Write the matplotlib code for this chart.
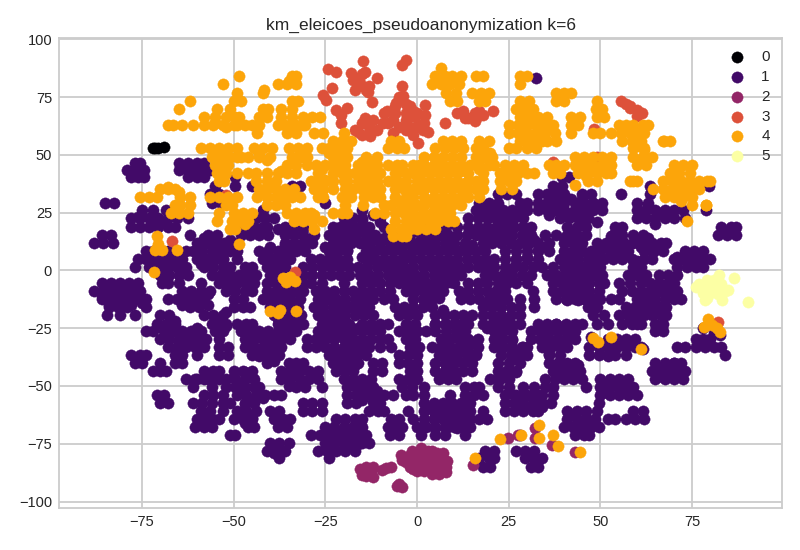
import matplotlib
matplotlib.use('Agg')
import matplotlib.pyplot as plt

plt.rcParams['font.family'] = ['Liberation Sans', 'DejaVu Sans']

# t-SNE coordinates, dense groups kept per row as y: [x, ...]
cluster_0 = [(-72, 52.9), (-71.5, 53.2), (-70.6, 53.2), (-69, 53.3)]

rows_1 = {
    46.5: [-77, -75.5, -65, -62.5, -60, -58],
    43.5: [-79, -76.5, -74.5, -65, -62.5, -60, -58, -56.5],
    40.5: [-78, -76, -74.5, -62.5, -60, -58, -49.5, 39.5, 41.5],
    36.5: [-55, -49.5, -45, -34, -32, 37, 39.5, 63.5, 79.5],
    33: [-56.5, -54, 22, 24.5, 27, 33, 35.5, 38, 40, 45, 47.5, 55.6, 63.5],
    29: [-85, -82.5, -56, -53.5, -25, 17, 19.5, 22, 28, 30, 33, 35.5, 38, 40, 43, 45.5, 48, 50.5, 60, 63],
    26: [-75, -72, -68.5, -42, -15, 16, 18.5, 21, 23.5, 26, 28.5, 30, 33, 35.5, 38, 40, 43, 45.5, 48, 50.5, 60, 62.5,
         65, 67.5, 70, 72.5, 78.8],
    22.5: [-78, -75.5, -73, -70.5, -68, -65.5, -62.5, -44, -41.5, -39, -20, -17.5, -15, -10, 14, 16.5, 19, 21.5, 24,
           26.5, 29, 39, 41.5, 44, 46.5, 60, 62.5, 65, 67.5, 70, 73],
    19: [-78, -75.5, -73, -70.5, -68, -66, -47, -44.5, -42, -36, -33.5, -31, -23, -20.5, -18, -15.5, -13, -9, 1, 8, 11,
         14, 16.5, 19, 21.5, 24, 26.5, 29, 31, 41, 43.5, 46, 54, 56, 83, 85.5, 87],
    15.5: [-86, -83.5, -62, -57, -54.5, -48, -45.5, -43, -40.5, -36, -33.5, -31, -28, -24, -21.5, -19, -16.5, -14, -11.5,
           -7, -4.5, -2, 1, 3.5, 6, 8.5, 11, 13.5, 16, 18.5, 21, 23.5, 26, 28.5, 31, 35, 38, 41, 43.5, 46, 53.5, 56, 59,
           61.5, 82, 84.5, 87],
    12: [-88, -85.5, -83, -60, -57.5, -55, -52.5, -50, -36, -33.5, -31, -28.5, -23, -20.5, -18, -15.5, -13, -10, -7.5,
         -5, -2.5, 0, 2.5, 5, 7.5, 10, 13, 18, 20.5, 23, 25.5, 28, 30.5, 33, 36, 40, 42.5, 45, 49, 51.5, 54, 56.5, 59,
         61.5, 64, 66.5, 68],
    8.5: [-74, -72, -68, -65.5, -63, -61, -58.5, -56, -53.5, -51, -49, -43, -40.5, -38, -35.5, -33, -30.5, -24, -21.5,
          -19, -14, -11.5, -9, -6.5, -4, -1.5, 1, 3.5, 6, 8.5, 11, 13.5, 16, 18.5, 24, 27, 30, 33, 36, 40, 42.5, 45,
          47.5, 50, 52.5, 55, 57.5, 62, 64.5, 67, 73, 75.5, 78],
    5: [-76, -74, -71.5, -69, -66.5, -64, -60, -57.5, -55, -53, -42, -39.5, -37, -34.5, -29, -26.5, -24, -21.5, -19,
        -14, -11.5, -9, -6.5, -4, -1.5, 1, 3.5, 6, 8.5, 11, 13.5, 16, 18.5, 21, 24, 27, 30, 33, 39, 41.5, 44, 46.5, 49,
        51, 53.5, 56, 58.5, 62, 64, 70, 72.5, 75, 77.5, 80],
    1.5: [-77, -73, -70.5, -68, -65.5, -63, -58, -55.5, -53, -51, -47, -45, -41, -38.5, -36, -31, -28.5, -26, -23.5,
          -21, -18.5, -16, -13.5, -11, -8.5, -6, -3.5, -1, 1.5, 4, 6.5, 9, 11.5, 14, 16.5, 19, 21, 24, 26.5, 29, 31.5,
          34, 37, 40, 42.5, 45, 47.5, 50, 59, 61, 71, 73.5, 76, 78],
    -2: [-70, -67.5, -65, -62.5, -56, -53.5, -51, -48.5, -46, -44, -40, -37.5, -31, -28.5, -26, -23.5, -21, -18.5,
         -15.5, -13, -10.5, -8, -5.5, -3, -0.5, 2, 4.5, 7, 9.5, 12, 18.5, 21, 23.5, 26, 28.5, 31, 35.5, 38, 40.5, 43,
         45.5, 48, 50.5, 57.5, 60, 62.5, 66, 68.5, 71],
    -5.5: [-86, -83.5, -81, -78.5, -76, -69.5, -68, -65, -59, -54, -51.5, -49, -46.5, -44.5, -41, -38.5, -36, -33.5,
           -31, -29, -26, -20, -15, -12.5, -10, -7.5, -5, -2.5, 0, 2.5, 5, 7.5, 10, 14, 16.5, 19, 22, 24.5, 27, 30, 37,
           39.5, 42, 44.5, 47, 49.5, 51, 55, 58, 61, 63.5, 66, 68.5, 70],
    -9: [-88, -85.5, -83, -80.5, -78, -75.5, -64, -61.5, -59, -56.5, -52, -49.5, -47, -45, -41, -38.5, -36, -33.5, -31,
         -27.5, -25, -22.5, -20, -17.5, -15, -12.5, -10, -7.5, -3, -0.5, 2, 4.5, 7, 11.5, 14, 16.5, 19, 21.5, 24, 31.5,
         37, 39.5, 42, 44.5, 47, 49.5, 56, 58.5, 61, 63.5, 66, 68.5, 71],
    -12.5: [-86, -83.5, -81, -78.5, -76, -74, -68, -65.5, -63, -60.5, -58, -50, -47.5, -42, -39.5, -37, -34.5, -32, -27,
            -24.5, -22, -19.5, -17, -14.5, -12, -9, -6.5, -1, 1.5, 4, 12, 14.5, 17, 19.5, 22, 24.5, 28, 32, 38, 40.5,
            43, 45.5, 48, 50, 53, 55, 60, 62.5, 65, 67.5, 70, 72],
    -16: [-84, -81.5, -79, -74, -62, -59.5, -50, -47.5, -45.5, -40, -37.5, -35, -32.5, -28, -25.5, -23, -20.5, -18,
          -15.5, -13, -6, -3.5, -1, 1.5, 18, 20.5, 23, 25.5, 28, 32, 46.5, 49, 57, 59.5, 62, 64, 66, 68],
    -19.4: [-84.5, -81, -76.8, -70, -67.5, -58, -55.5, -53, -39, -36.5, -34, -31.5, -27, -24.5, -22, -19.5, -17, -14.5,
            -12, -5, -2.5, 0, 5, 7.5, 10, 12.5, 15, 18, 20.5, 23, 25.5, 28, 48, 51, 55, 57.5, 60, 62, 64, 66.5, 68],
    -23: [-71, -68.5, -66, -56, -53.5, -52, -49, -46.5, -45, -38, -35.5, -33, -31, -26, -23.5, -21, -18.5, -15, -12.5,
          -10, -8, -3, -0.5, 5, 7.5, 10, 12.5, 14, 18, 20.5, 23, 25.5, 28, 33, 35.5, 38, 40.5, 43, 45, 49, 52, 56, 58.5,
          61, 65, 67],
    -26.4: [-74, -72, -69, -66.5, -64, -61.5, -59, -55, -53, -48, -45.5, -43, -40.5, -38, -35.5, -27, -24.5, -22, -19.5,
            -17.5, -15, -12.5, -10, -5, -2.5, 0, 2.5, 5, 8, 10.5, 13, 21, 23.5, 26, 31, 33.5, 36, 38.5, 41, 43, 65, 67],
    -29.8: [-70, -67.5, -65, -62.5, -60, -57.5, -54, -47, -44.5, -42, -39.5, -37, -34.5, -30, -27.5, -25, -22.5, -20,
            -17.5, -15, -12.5, -10, -8, -3, -0.5, 6.5, 9, 11.5, 14, 16.5, 21, 23.5, 26, 31, 33.5, 36, 38.5, 41, 43, 52,
            54.5, 57, 59.5, 76, 78, 80],
    -33.3: [-68, -65.5, -63, -60.5, -58, -54, -51.5, -47, -44.5, -42, -39.5, -37, -30, -27.5, -25, -22.5, -20, -17.5,
            -15, -13, -10, -7, -2, 0.5, 4, 6.5, 9, 11.5, 14, 16.5, 21, 23.5, 26, 28.5, 30, 34, 36.5, 39, 41, 47, 49.5,
            52, 54.5, 57, 59.5, 61, 70.8, 73, 76, 78.5, 81, 83],
    -36.8: [-78, -75.5, -74, -66, -64, -60, -54, -51.5, -45, -42.5, -40, -37.5, -24, -21.5, -19, -16.5, -14, -5, -2.5,
            0, 6, 8.5, 11, 13.5, 16, 23, 25.5, 28, 30, 36, 39, 47, 49.5, 52, 54, 57, 84],
    -40.2: [-77, -75, -70, -66, -64, -41, -35, -33, -31, -23, -20.5, -18, -16, -12, -9.5, -5, -2.5, 0, 5, 7.5, 10, 12.5,
            15, 22, 25, 28, 36, 38.5, 41, 43, 65, 67.5, 70, 72],
    -43.7: [-72, -70, -68.5, -58, -55.5, -54, -50, -47.5, -45, -37, -34.5, -32, -29.5, -27, -22, -19.5, -17.5, -12, -9.5,
            -2, 0, 5, 7.5, 10, 12.5, 15, 22, 24.5, 27, 37, 39.5, 42, 44.5, 64, 66.5, 69, 71.5, 73],
    -47.1: [-63, -60.5, -58, -55.5, -54, -52, -49.5, -47, -44.5, -37, -34.5, -32, -29.5, -27, -20, -17.5, -15, -12.5, -5,
            -2.5, 0, 6, 8.5, 10.5, 20, 22.5, 25, 35, 37.5, 40, 42.5, 45, 50, 52.5, 55, 57.5, 65, 67.5, 70, 72.5],
    -50.6: [-61, -56, -52, -49.5, -47, -44.5, -43, -33, -30.5, -26, -19, -16.5, -14, -12, -4, -1.5, 2, 13, 15.5, 17, 22,
            25, 29, 32, 35, 37, 46, 50, 52.5, 55, 57.5, 59],
    -54: [-71, -69, -58, -55.5, -53, -49, -46.5, -44, -41.5, -39, -37, -19, -16.5, -14, -11.5, -9, -6.5, -3, -1, 2, 9,
          13, 15.5, 18, 24, 26.5, 29, 31.5, 34, 37, 50, 52.5, 55, 57.5, 60],
    -57.5: [-70, -68, -61, -58.5, -56, -53, -51, -47, -44.5, -31, -28.5, -26, -19, -16.5, -10, 2, 4.5, 7, 9.5, 12, 14.5,
            24, 26.5, 29, 31.5, 34, 36.5, 49.7],
    -61: [-59, -56.5, -53, -49, -46.5, -44, -40, -37.5, -31, -28.5, -26, -13, -10.5, -9, -2.5, 2, 4.5, 7, 9.5, 12, 14.5,
          18, 24, 26.5, 29, 31.5, 33, 41, 43.5, 46, 49, 59, 61.5],
    -64.4: [-60, -57.5, -56, -54, -50, -47.5, -45, -39, -36.5, -34.5, -22, -19.5, -17, -15, -7, -5, -1, 2, 4.5, 7, 9.5,
            12, 14.5, 17, 19, 41, 43.5, 46, 48.5, 52, 54, 57, 59.5, 62],
    -67.9: [-60.5, -58, -56, -46, -44.5, -38, -35.5, -25, -22.5, -20, -17.5, -15, -8, -5.5, -4, 0, 2.5, 5, 7.5, 10, 12.5,
            14.5, 40, 42.5, 45, 47.5, 49.5],
    -71.4: [-51, -49.5, -29, -26.5, -24, -21.5, -19, -16.5, -14, -7.5, -5, 1, 5, 7.5, 13, 28, 43, 45.5, 47],
    -74.8: [-40, -37.5, -35, -25, -22.5, -20, -17.5, -15, -13],
    -78.3: [-41, -38.5, -36, -27, -24.5, -22, -19.5, -17, 18.5, 21, 27, 29.5, 32],
    -81.3: [-37.5, -24, 17, 19.5, 21, 29.5, 32, 34],
    -85: [18, 20, 31, 33],
}
# second pass over the purple blobs, offset from the rows so the gaps close up
extra_1 = [
    (32.5, 83.5), (47.5, -29), (78, -25), (81, -27), (82.5, -28), (61.5, -34),
    (-84.7, -8), (-82, -8), (-79, -8), (-86, -11), (-83, -11), (-80, -11), (-77, -11), (-84, -15), (-81, -15), (-78, -15),
    (-75, -14), (-69, -24), (-67, -25), (-64.5, -31), (-62, -27), (-60, -25), (-65, -31), (-68, -28), (-62, -31),
    (-60, -31), (-66, -22), (-63, -12), (-60, -11), (-57, -10), (-64, -15), (-60, -15), (-57, -15),
    (-52, -24), (-55, -21), (-52, -18), (-46, -26), (-42, -28), (-38, -28), (-36, -29), (-45, -32), (-41, -32), (-38, -33),
    (-43, -37), (-39, -39), (-38, -21), (-35, -24), (-33, -26), (-33, -19), (-39, -14), (-36, -14), (-33, -14), (-38, -5),
    (-33, -8), (-40, 10), (-38, 6), (-36, 11), (-31, 18), (-34, 16), (-29, 13), (-25, 10), (-22, 11), (-19, 9), (-26, 2),
    (-23, 5), (-21, 3), (-15, 6), (-12, 5), (-9, 4), (-6, 2), (-3, 6), (-12, 13), (-9, 14), (-17, 17), (-14, 16), (-21, 19),
    (-18, 21), (-15, 22), (-12, 24), (-10, 21), (-72, 21), (-69, 21), (-76, 23), (-72, 3), (-69, 2), (-66, 6), (-59, 3),
    (-56, 4), (-53, 5), (-58, 14), (-55, 11), (-51, 13), (-49, 5), (-44, 16), (-41, 19), (-38, 18), (-33, 11),
    (-25, -25), (-22, -24), (-19, -24), (-16, -25), (-13, -24), (-25, -28), (-22, -28), (-18, -30), (-15, -32), (-27, -31),
    (-23, -34), (-20, -35), (-16, -36), (-22, -38), (-19, -39), (-17, -41), (-29, -45), (-33, -44), (-36, -45), (-35, -50),
    (-50, -46), (-47, -44), (-48, -50), (-44, -50), (-48, -52), (-45, -56), (-42, -55), (-47, -58), (-16, -49), (-13, -51),
    (-16, -52), (-11, -52), (-15, -56), (-12, -57), (-22, -70), (-19, -70), (-16, -72), (-21, -73), (-18, -75), (-23, -76),
    (-20, -77), (-16, -75), (-60, -47), (-57, -47), (-59, -66), (-57, -66), (-45, -64), (-47, -66), (-38, -77), (-39, -79),
    (3, -6), (6, -4), (9, -5), (4, -8), (6, -8), (3, -12), (6, -12), (4, -16), (7, -17), (5, -23), (8, -23), (11, -23),
    (8, -30), (12, -32), (15, -31), (7, -36), (10, -34), (13, -35), (16, -36), (8, -41), (11, -39), (14, -39), (7, -46),
    (10, -45), (22, -15), (19, -14), (21, -20), (24, -22), (19, -25), (23, -27), (23, -33), (26, -34), (29, -36), (26, -38),
    (38, -23), (41, -24), (35, -28), (38, -30), (40, -30), (36, -36), (39, -3), (42, -3), (45, -3), (40, -8), (43, -8),
    (46, -8), (41, -13), (44, -13), (47, -12), (64, -9), (67, -8), (61, -15), (64, -13), (60, -23), (58, -22), (50, -33),
    (53, -33), (56, -31), (59, -32), (52, -37), (39, -42), (41, -41), (44, -41), (67, -43), (70, -44), (67, -46), (70, -40),
    (52, -49), (55, -49), (57, -50), (52, -53), (55, -53), (57, -53), (27, -54), (30, -54), (33, -54), (28, -59), (31, -59),
    (34, -59), (43, -62), (46, -64), (44, -67), (47, -68), (4, -60), (7, -59), (10, -59), (13, -60), (5, -63), (8, -63),
    (11, -64), (14, -64), (5, -68), (8, -68), (11, -68), (22, -47), (24, -44), (27, -44), (23, -31), (26, -30), (29, -33),
    (29, 19), (24, 21), (20, 23), (17, 24), (27, 24), (22, 26), (25, 25), (15, 17), (18, 18), (22, 14), (25, 14),
    (29, 15), (32, 13), (35, 10), (33, 9), (30, 6), (27, 5), (7, 16), (4, 11), (9, 10), (12, 9), (15, 11), (42, 31),
    (38, 28), (36, 31), (39, 33), (36, 24), (42, 25), (45, 31), (48, 29), (46, 24), (49, 21), (45, 21), (43, 16), (40, 14),
    (41, 7), (44, 9), (47, 7), (52, 10), (55, 10), (53, 15), (61, 10), (64, 9), (60, 13), (63, 14), (57, 7), (60, 4),
    (63, 28), (66, 25), (69, 24), (62, 24), (65, 20), (71, 6), (74, 6), (77, 5), (85, 17),
]

cluster_2 = [
    (-13.8, -85), (-14.5, -87), (-12.5, -87), (-13.8, -89), (-15.5, -86), (-12, -85), (-12, -89.5), (-15, -88.5),
    (-8.5, -85.6), (-7, -85), (-9.5, -86.5), (-5.5, -93.3), (-4, -93.5), (-5, -92.5), (-3.5, -81), (-1.5, -78), (1, -77),
    (-3, -83), (-1, -83), (-1, -86), (1, -80), (1, -84), (3, -78), (3, -81), (3, -85), (5, -80), (5, -83), (5, -86),
    (7, -79), (7, -83), (7, -86), (-4.5, -80), (5.5, -79.2), (8.3, -82.4), (7.9, -87.1), (-2, -80), (0, -82), (2, -83),
    (4, -78), (6, -81), (8, -85), (2, -87), (4, -88), (6, -88), (0, -87), (-2, -85), (-4, -82), (32.2, -68),
    (24.9, -72.7), (27.6, -71.2), (32.2, -72.7), (36.7, -75.6), (43.1, -78.7), (15.3, -84.2),
]

cluster_3 = [
    (-24.2, 87.1), (-22, 86.1), (-14.7, 90.7), (-17.9, 85.4), (-17.4, 82.5), (-14.2, 86.1), (-11, 83.2), (-15.6, 81),
    (-17, 78.2), (-13.3, 77.4), (-12.4, 73.1), (-2.9, 91.1), (-4.2, 89), (-4.2, 79.9), (-23.3, 78.9), (-25.6, 76),
    (-24.7, 73.8), (-22, 69.5), (-19.2, 70.2), (-20.6, 63.7), (-20.6, 67.3), (-14.2, 65.9), (-12, 65.2), (-15.1, 58.7),
    (-12.9, 58), (-8.3, 68.8), (-5.6, 72.4), (-3.8, 75.3), (-2, 71), (-6.5, 65.2), (-2.9, 65.2), (-9.2, 63.7), (-1, 58.7),
    (0.3, 55), (-0.6, 66.6), (-6.5, 59.4), (-2.9, 60.8), (2.2, 71.7), (2.2, 67.3), (3.1, 60.1), (1.7, 60.8), (7.6, 63.7),
    (12.6, 68.8), (15.8, 68), (18.1, 67.3), (15.8, 64.5), (20.8, 68.8), (55.6, 73.4), (58.1, 70.2), (59.9, 69.5),
    (61.3, 68), (48.3, 61.3), (49.2, 49.3), (37.2, 47), (75.3, 36.3), (-66.8, 12.8), (-52.1, 32.7), (-33.3, -0.5),
    (82, -22.2), (-9, 68), (-6, 68), (-3, 68), (0, 68), (-8, 64), (-5, 62), (-2, 62), (1, 63), (-6, 71), (-3, 72),
    (-1, 69), (-5, 75), (-16, 60), (-13, 62), (-11, 61), (-15, 64), (-17, 61), (-16, 83), (-13, 80), (-15, 85), (-14, 78),
    (14, 66), (16, 66), (13, 66), (17, 69), (11, 68), (2, 64), (0, 62), (58, 71), (60, 67), (57, 72),
]

rows_4 = {
    84: [-48.5, -34, -33, 5, 7.5, 9.5, 12, 16, 18, 28, 30],
    80.5: [-53, -38, -35.5, -33, 4, 6.5, 9, 11.5, 28],
    77: [-49, -42, 8, 10.5, 15, 17.5, 19.5, 38, 40, 42],
    73.5: [-62, -50, -48, -34, -32.5, 9, 11, 17, 18.5, 28, 30.5, 38, 40, 49],
    70: [-65, -54.5, -51, -42, -40.5, -37, -34, 27, 29.5, 31.5, 48.8, 50.5],
    66.5: [-58, -55, -52, -49.5, -48.5, -43, -41, -37, -34, -31, -28.5, -26.5, 28, 30.5, 33, 35.5, 42, 44.5, 49, 51],
    63: [-68, -66.5, -64, -61, -58, -55.5, -53, -49, -47, -45, -43, -38, -36, -33, -30.5, 25, 27.5, 30, 32.5, 35, 37, 42,
         44, 55, 57, 59, 61.5, 63],
    59.7: [-43.5, -35.5, -33, -28, -25.5, -20, 25, 27.5, 30, 32.5, 35, 37.5, 42, 48, 50, 53, 55.5, 58, 60.5, 62],
    56.2: [-23, -20.5, -18, -7, -5, 7, 9.5, 12, 17, 19.5, 28, 30.5, 33, 35.5, 38, 56, 58.5, 61, 67, 69],
    52.8: [-59, -56.5, -54, -51.5, -49, -44.5, -42, -39.5, -35, -32.5, -30, -26, -24, -21.5, -19, -8, -5.5, -3.5, 5, 7.5,
           10, 12.5, 16, 18, 25, 27, 32.5, 59, 62],
    49.3: [-56, -53.5, -51, -49, -48, -46, -43, -40, -34, -31.5, -30, -23, -21, -19, -14, -11, 2, 4.5, 7, 9.5, 12, 16,
           18.5, 20.5, 43, 45.5, 48, 50.5, 53, 59, 61.5, 64],
    45.8: [-55, -53, -51.5, -35.5, -33, -30, -27.5, -25, -23, -21, -19.5, -16, -13.5, -11, -8, -5.5, -4, -1, 0.5, 2, 4.5,
           7, 9.5, 12, 14.5, 17, 19.5, 21, 24, 26.5, 29, 36, 38, 40, 43, 45.5, 48, 50.5, 53, 60, 62.5, 70, 72.5, 75],
    42.3: [-54.5, -52, -49, -46, -44, -41, -38, -35.5, -33, -23, -20.5, -19, -17, -14.5, -12, -10, -5.5, -3, -1, 1, 3.5,
           6, 8.5, 11, 14, 22.5, 25, 27.5, 30, 32, 37, 39, 44, 46.5, 49, 51.5, 53, 69, 71.5, 74.5],
    38.9: [-54, -52.5, -44, -41, -38.5, -29, -26.5, -25, -23, -20, -19, -16, -13.5, -11, -8, -5.5, -3, 0, 1, 3.5, 6, 8.5,
           11, 14, 16, 18, 22.5, 25, 27, 46.5, 49, 58, 60, 67, 69.5, 72, 74.5, 77, 79, 80],
    35.4: [-70, -68, -66, -43, -41, -38.5, -36, -33.5, -28, -25.5, -23, -19.5, -17.5, -15, -12.5, -10, -6, -3.5, -1, 0.5,
           2, 4.5, 7, 9.5, 12, 13.5, 16, 18, 23, 26, 64.4, 67, 69.5, 72, 74.5, 77],
    32: [-75.5, -73, -71, -64.5, -62, -56.5, -54, -51.5, -49, -43.5, -41, -38.5, -36, -34, -32, -27, -25.5, -20.5, -18,
         -14.5, -12, -10, -6, -3, -1, 2, 4.5, 7, 9.5, 12, 14, 17, 67.5, 70, 72.5, 75],
    28.5: [-66, -64.5, -62, -52, -50.5, -41, -38.5, -36, -19.5, -14.7, -9, -7, -4.5, -2, 0, 2, 4.5, 7, 9.5, 12, 74.9, 78.8],
    25: [-67, -65, -62.5, -54, -50, -47.5, -45, -35.5, -33, -30.5, -29, -23, -20.5, -19, -11.5, -9, -6, -3.5, -1, 1.5, 4,
         6.5, 9],
    21.6: [-54.5, -50.5, -48, -46, -33.5, -31, -28.5, -26, -6, -3, -1, 1, 3.5, 6, 8.5, 10, 73.5],
    18.1: [-51, -49.5, -28, -7, -4.5, -2, 0, 2.5, 5],
    14.7: [-71, -6.5, -4, -3],
    11.5: [-48.5, -70.5],
    9: [-71.5, -69.5, -65.4],
}
extra_4 = [
    (-71.7, -0.8), (33.3, -66.9), (22.6, -73.1), (28.3, -71), (33.3, -72.7), (37.2, -71.2), (38.3, -76), (44.3, -78.7),
    (15.9, -81.3), (48.1, -29.4), (49.4, -31.1), (53, -28.7), (61.1, -33.9), (79.2, -21.2), (78.1, -24.3), (80.3, -23.6),
    (81.7, -25), (82.6, -26.5), (-40.1, -17.5), (-37.4, -17.1), (-37.9, -18.6), (-32.9, -17.5), (-36.5, -3.4), (-34.7, -2.7),
    (-33.3, -4.4), (-35.6, -4.8), (43, 37), (67.2, 56), (78.8, 28.4), (58.8, 38.5),
    (6.5, 87.5), (5.3, 82), (10, 82), (-35, 82), (-41.8, 78.2), (31, 64), (34, 62), (29, 60), (32, 57), (36, 62), (30, 53),
    (34, 56), (44, 47), (47, 44), (50, 44), (47, 48), (51, 46), (46, 41), (59, 59), (57, 61), (60, 54), (61, 47), (62, 52),
    (71, 42), (73, 38), (70, 36), (75, 37), (72, 30), (69, 33), (-55, 51), (-52, 51), (-43, 51), (-41, 48), (-32, 50),
    (-24, 51), (-21, 52), (-22, 47), (-20, 42), (-15, 47), (-12, 47), (-14, 40), (-11, 37), (-13, 33), (-6, 42), (-4, 36),
    (-5, 30), (-2, 29), (-1, 23), (3, 44), (6, 45), (9, 44), (12, 43), (4, 37), (8, 36), (11, 38), (4, 30), (7, 30),
    (10, 30), (13, 38), (5, 24), (8, 24), (3, 22), (-40, 36), (-38, 32), (-36, 32), (-42, 35), (-33, 22), (-30, 23),
    (-28, 24), (-26, 44), (-27, 42), (-25, 39), (-65, 34), (-68, 36), (-47, 20), (-49, 24), (-37, 43), (-50, 63), (-55, 64),
    (-52, 62), (-31, 63), (-35, 62), (17, 44), (18, 42), (24, 40), (26, 42), (20, 51), (18, 52),
]

cluster_5 = [
    (77.2, -7), (79, -4.1), (82.2, -2), (86.5, -3.4), (90.3, -13.8), (78.5, -12.8), (81.2, -7.7), (83.1, -12.8),
    (84.9, -8.5), (79.9, -9.9), (78, -9.9), (77, -6), (80, -6), (82, -5), (84, -9), (80, -8), (82, -10), (78, -8),
    (81, -4), (79, -12), (76, -7), (83, -6),
]


def from_rows(rows, extra):
    pts = [(x, y) for y, xs in rows.items() for x in xs]
    return pts + extra


clusters = [cluster_0, from_rows(rows_1, extra_1), cluster_2, cluster_3, from_rows(rows_4, extra_4), cluster_5]
colors = ['#000004', '#420a68', '#932667', '#dd513a', '#fca50a', '#fcffa4']

fig, ax = plt.subplots(figsize=(8, 5.5), dpi=100)
ax.set_axisbelow(True)
ax.grid(True, color='#cccccc', linewidth=1.3)

for i, points in enumerate(clusters):
    xs = [p[0] for p in points]
    ys = [p[1] for p in points]
    ax.scatter(xs, ys, s=66, color=colors[i], label=str(i), linewidths=0.3, edgecolors=colors[i])

ax.set_xlim(-97.6, 99.5)
ax.set_ylim(-102.8, 100.6)
ax.set_xticks([-75, -50, -25, 0, 25, 50, 75])
ax.set_yticks([-100, -75, -50, -25, 0, 25, 50, 75, 100])
ax.tick_params(length=0, labelsize=10.5, colors='#262626', pad=5)
for side in ax.spines.values():
    side.set_color('#cccccc')
    side.set_linewidth(1.3)

ax.set_title('km_eleicoes_pseudoanonymization k=6', fontsize=12.5, color='#262626', pad=6)
ax.legend(loc='upper right', frameon=False, fontsize=11, labelspacing=0.38, handletextpad=0.57,
          borderaxespad=0.4, labelcolor='#262626')

fig.subplots_adjust(left=59 / 800, right=782 / 800, top=1 - 38 / 550, bottom=1 - 508 / 550)
fig.savefig('out.png', dpi=100)
